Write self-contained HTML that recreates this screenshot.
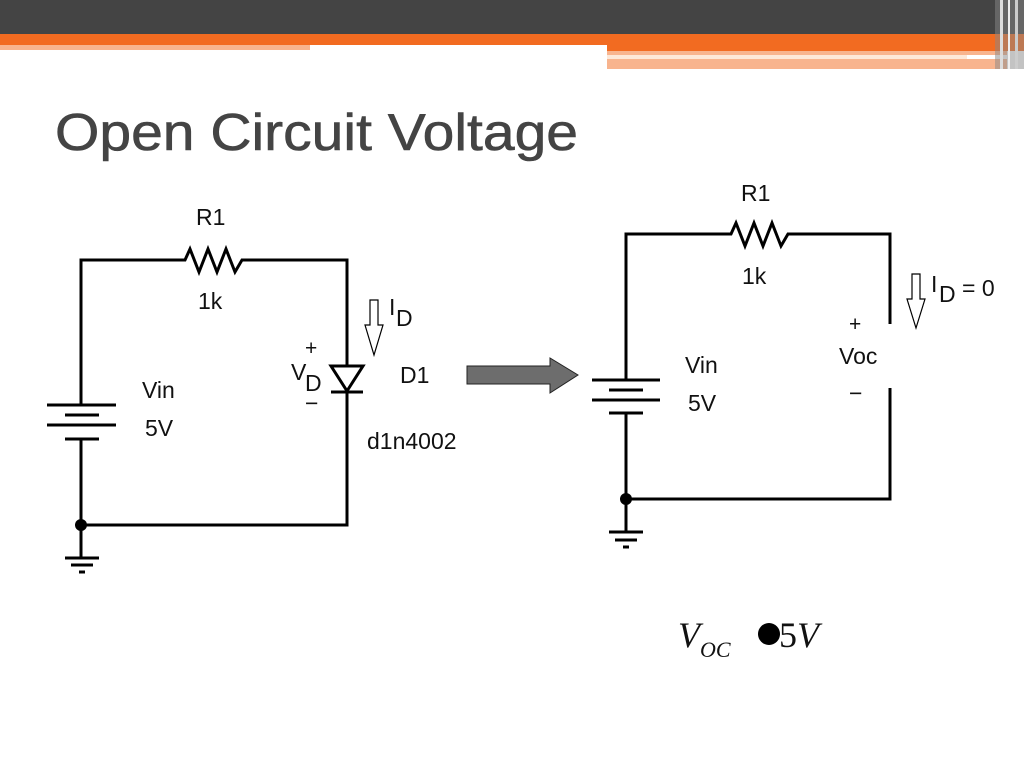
<!DOCTYPE html>
<html><head><style>
html,body{margin:0;padding:0;background:#fff;width:1024px;height:768px;overflow:hidden}
svg{display:block}
text{font-family:"Liberation Sans",Arial,sans-serif;fill:#111}
</style></head><body>
<svg width="1024" height="768" viewBox="0 0 1024 768" xmlns="http://www.w3.org/2000/svg">
<!-- header -->
<rect x="0" y="0" width="1024" height="34" fill="#444"/>
<rect x="0" y="34" width="1024" height="11" fill="#f26b21"/>
<rect x="0" y="45" width="310" height="5" fill="#f8b48e"/>
<rect x="607" y="45" width="417" height="6" fill="#f26b21"/>
<rect x="607" y="51" width="400" height="4" fill="#f8b48e"/>
<rect x="607" y="55" width="360" height="4" fill="#fde8d8"/>
<rect x="607" y="59" width="400" height="10" fill="#f8b48e"/>
<rect x="995" y="0" width="29" height="69" fill="#888" opacity="0.5"/>
<rect x="1000" y="0" width="3" height="69" fill="#ddd"/>
<rect x="1008" y="0" width="2" height="69" fill="#eee"/>
<rect x="1015" y="0" width="3" height="69" fill="#ccc"/>
<!-- title -->
<text x="55" y="150" font-size="52" textLength="523" lengthAdjust="spacingAndGlyphs" style="fill:#444;stroke:#444;stroke-width:0.6">Open Circuit Voltage</text>

<g stroke="#000" stroke-width="3" fill="none">
<polyline points="81,405 81,260 185,260 190,249 199,272 208,249 217,272 226,249 235,272 242,260 347,260 347,365"/>
<line x1="47" y1="405" x2="116" y2="405"/>
<line x1="65" y1="415" x2="99" y2="415"/>
<line x1="47" y1="425" x2="116" y2="425"/>
<line x1="65" y1="439" x2="99" y2="439"/>
<polyline points="81,439 81,558"/>
<polyline points="81,525 347,525 347,393"/>
<line x1="65" y1="558" x2="99" y2="558"/>
<line x1="71" y1="565" x2="93" y2="565"/>
<line x1="79" y1="572" x2="85" y2="572"/>
<polygon points="331,366 363,366 347,391"/>
<line x1="331" y1="392" x2="363" y2="392"/>
<polyline points="626,380 626,234 731,234 736,223 745,246 754,223 763,246 772,223 781,246 788,234 890,234 890,324"/>
<polyline points="890,388 890,499 626,499"/>
<line x1="592" y1="380" x2="660" y2="380"/>
<line x1="609" y1="390" x2="643" y2="390"/>
<line x1="592" y1="400" x2="660" y2="400"/>
<line x1="609" y1="413" x2="643" y2="413"/>
<line x1="626" y1="413" x2="626" y2="532"/>
<line x1="609" y1="532" x2="643" y2="532"/>
<line x1="615" y1="540" x2="637" y2="540"/>
<line x1="623" y1="547" x2="629" y2="547"/>
</g>
<circle cx="81" cy="525" r="6" fill="#000"/>
<circle cx="626" cy="499" r="6" fill="#000"/>
<polygon points="370,300 378,300 378,325 383,325 374,355 365,325 370,325" fill="#fff" stroke="#000" stroke-width="1.2"/>
<polygon points="912,274 920,274 920,299 925,299 916,328 907,299 912,299" fill="#fff" stroke="#000" stroke-width="1.2"/>
<polygon points="467,366 550,366 550,358 578,375 550,393 550,384 467,384" fill="#6d6d6d" stroke="#222" stroke-width="1"/>
<!-- labels left -->
<text x="196" y="225" font-size="23">R1</text>
<text x="198" y="309" font-size="23">1k</text>
<text x="142" y="398" font-size="23">Vin</text>
<text x="145" y="436" font-size="23">5V</text>
<text x="389" y="315" font-size="23">I</text>
<text x="396" y="326" font-size="23">D</text>
<text x="305" y="355" font-size="21">+</text>
<text x="291" y="380" font-size="23">V</text>
<text x="305" y="391" font-size="23">D</text>
<text x="305" y="411" font-size="23">−</text>
<text x="400" y="383" font-size="23">D1</text>
<text x="367" y="449" font-size="23">d1n4002</text>
<!-- labels right -->
<text x="741" y="201" font-size="23">R1</text>
<text x="742" y="284" font-size="23">1k</text>
<text x="685" y="373" font-size="23">Vin</text>
<text x="688" y="411" font-size="23">5V</text>
<text x="849" y="331" font-size="21">+</text>
<text x="839" y="364" font-size="23">Voc</text>
<text x="849" y="401" font-size="23">−</text>
<text x="931" y="292" font-size="23">I</text>
<text x="939" y="302" font-size="23">D</text>
<text x="962" y="296" font-size="23">= 0</text>
<!-- equation -->
<text x="678" y="647" font-size="36" font-style="italic" style="font-family:'Liberation Serif',serif">V</text>
<text x="700" y="657" font-size="22" font-style="italic" style="font-family:'Liberation Serif',serif">OC</text>
<circle cx="769" cy="634" r="11" fill="#000"/>
<text x="779" y="647" font-size="36" style="font-family:'Liberation Serif',serif">5<tspan font-style="italic">V</tspan></text>
</svg>
</body></html>
